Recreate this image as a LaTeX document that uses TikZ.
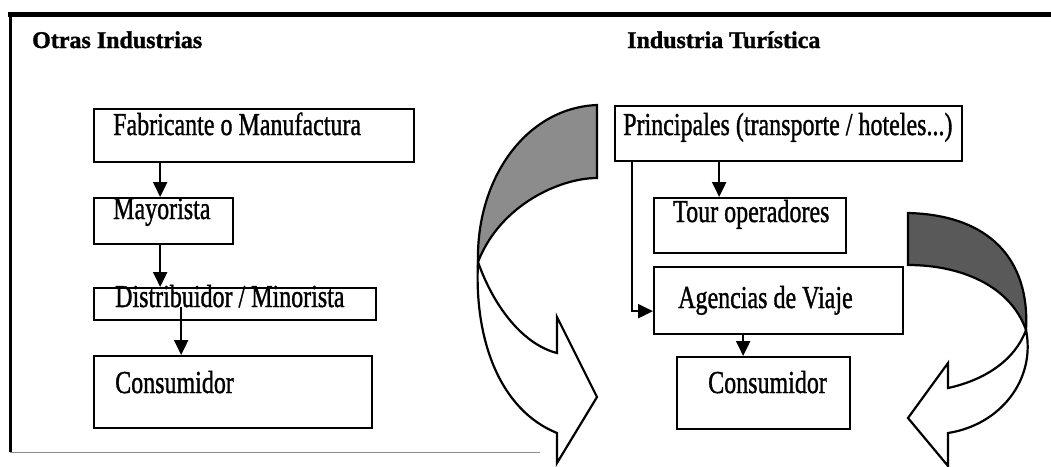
\documentclass[tikz,border=0pt]{standalone}
\usepackage{fontspec}
\setmainfont{Liberation Serif}
\newfontfamily\bodyfont[FakeBold=1.3]{Liberation Serif}
\newfontfamily\titlefont[BoldFeatures={FakeBold=1.3}]{Liberation Serif}
\usepackage{graphicx}
\usetikzlibrary{arrows.meta}
\newcommand{\bodytext}[1]{\scalebox{1}[1.33]{#1}}
\begin{document}
\begin{tikzpicture}[x=1pt,y=-1pt,
  box/.style={draw, line width=2.3pt, inner sep=0pt, anchor=north west},
  lbl/.style={anchor=base west, inner sep=0pt, font=\bodyfont\fontsize{24}{28}\selectfont},
  ttl/.style={anchor=base west, inner sep=0pt, font=\titlefont\fontsize{24}{28}\selectfont\bfseries},
  arr/.style={line width=2.2pt, -{Triangle[length=15pt,width=14pt]}},
  bigarrow/.style={draw, line width=2.2pt, line join=miter}]
\useasboundingbox (0,0) rectangle (1051,466);

% frame
\draw[line width=5pt] (8,14.5) -- (1051,14.5);
\draw[line width=3pt] (10,12) -- (10,452);
\draw[line width=0.8pt, black!45] (10,452) -- (540,452);

% titles
\node[ttl] (t1) at (32,48) {Otras Industrias};
\node[ttl] (t2) at (627,48) {Industria Turística};

% left column boxes
\node[box, minimum width=320, minimum height=53] (fab) at (93,108) {};
\node[lbl] (fabt) at (113,135) {\bodytext{Fabricante o Manufactura}};
\node[box, minimum width=139, minimum height=46] (may) at (93,197) {};
\node[lbl] (mayt) at (113,219) {\bodytext{Mayorista}};
\node[box, minimum width=282, minimum height=32] (dist) at (93,287) {};
\node[lbl] (distt) at (115,307) {\bodytext{Distribuidor / Minorista}};
\node[box, minimum width=278, minimum height=72] (cons1) at (93,355) {};
\node[lbl] (cons1t) at (115,393) {\bodytext{Consumidor}};

% right column boxes
\node[box, minimum width=347, minimum height=55] (prin) at (614,105) {};
\node[lbl] (print) at (623,135) {\bodytext{Principales (transporte / hoteles...)}};
\node[box, minimum width=192, minimum height=55] (tour) at (653,197) {};
\node[lbl] (tourt) at (673,222) {\bodytext{Tour operadores}};
\node[box, minimum width=249, minimum height=67] (agen) at (653,266) {};
\node[lbl] (agent) at (678,308) {\bodytext{Agencias de Viaje}};
\node[box, minimum width=173, minimum height=72] (cons2) at (676,356) {};
\node[lbl] (cons2t) at (708,393) {\bodytext{Consumidor}};

% connectors left
\draw[arr] ([xshift=-3.5]may.north |- fab.south) -- ([xshift=-3.5]may.north);
\draw[arr] ([xshift=-3.5]may.south) -- ([xshift=-3.5]may.south |- dist.north);
\draw[arr] ([xshift=-52]cons1.north |- distt.base) -- ([xshift=-52]cons1.north);

% connectors right
\draw[arr] ([xshift=-31]tour.north |- prin.south) -- ([xshift=-31]tour.north);
\draw[arr] ([xshift=18]prin.south west) |- ([yshift=-10.5]agen.west);
\draw[arr] ([xshift=-20.5]cons2.north |- agen.south) -- ([xshift=-20.5]cons2.north);

% left curved arrow
\draw[bigarrow, fill=white] (478,262) .. controls (495,310) and (525,345) .. (557,353)
  -- (557,317) -- (597,397) -- (557,463) -- (557,433)
  .. controls (500,410) and (474,340) .. (478,262) -- cycle;
\draw[bigarrow, fill=black!45] (597,105) -- (597,178)
  .. controls (560,178) and (500,205) .. (478,262)
  .. controls (476,180) and (525,108) .. (597,105) -- cycle;

% right curved arrow
\draw[bigarrow, fill=white] (1026,330) .. controls (1036,380) and (1000,425) .. (948,433)
  -- (948,466) -- (908,418) -- (948,363) -- (948,388)
  .. controls (985,380) and (1015,360) .. (1026,330) -- cycle;
\draw[bigarrow, fill=black!65] (908,213) .. controls (990,215) and (1030,260) .. (1026,330)
  .. controls (1010,285) and (960,265) .. (908,265) -- cycle;
\end{tikzpicture}
\end{document}
